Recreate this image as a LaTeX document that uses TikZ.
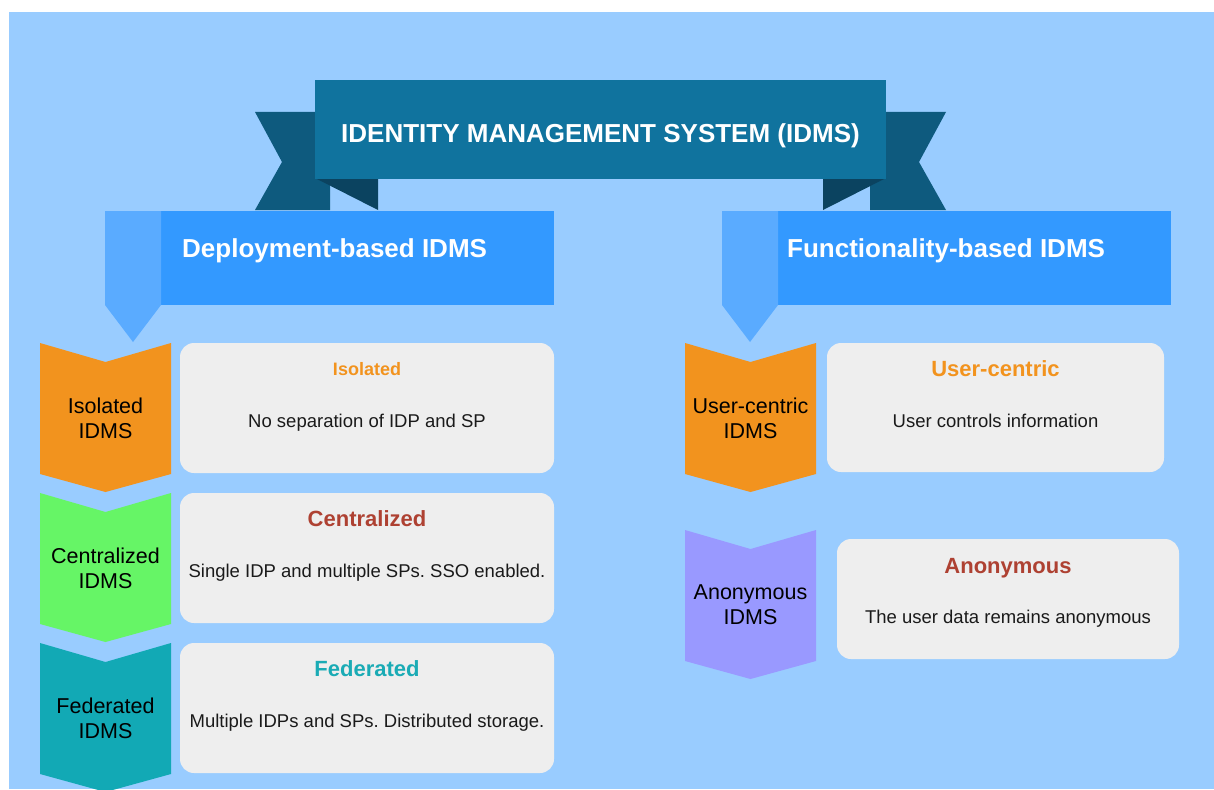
\documentclass[tikz,border=0pt]{standalone}
\usepackage{fontspec}
\setmainfont{Liberation Sans}
\frenchspacing
\definecolor{bgblue}{HTML}{99CCFF}
\definecolor{titleblue}{HTML}{10739E}
\definecolor{tailblue}{HTML}{0E5A7E}
\definecolor{folddark}{HTML}{0B4360}
\definecolor{headblue}{HTML}{3399FF}
\definecolor{striplight}{HTML}{5AABFF}
\definecolor{orangec}{HTML}{F2931E}
\definecolor{greenc}{HTML}{66F566}
\definecolor{tealc}{HTML}{12A9B5}
\definecolor{purplec}{HTML}{9999FF}
\definecolor{cardgray}{HTML}{EEEEEE}
\definecolor{redc}{HTML}{AE4132}
\definecolor{fedteal}{HTML}{1AABB5}
\definecolor{desctext}{HTML}{1A1A1A}
\newcommand\mychev[3]{\fill[#3] (#1,#2) -- ++(65.5,19) -- ++(65.5,-19) -- ++(0,131) -- ++(-65.5,18) -- ++(-65.5,-18) -- cycle;}
\begin{document}
\begin{tikzpicture}[x=1pt,y=-1pt,
  card/.style={fill=cardgray, rounded corners=14pt},
  chevtext/.style={font=\fontsize{21.5}{25}\selectfont, align=center, text=black, inner sep=0pt},
  cardtitle/.style={font=\bfseries\fontsize{22}{26}\selectfont, anchor=base, inner sep=0pt},
  desctxt/.style={font=\fontsize{18.5}{22}\selectfont, text=desctext, anchor=base, inner sep=0pt},
  headtxt/.style={font=\bfseries\fontsize{26}{30}\selectfont, text=white, anchor=base west, inner sep=0pt}]
\useasboundingbox (0,0) rectangle (1214,789);
\fill[white] (0,0) rectangle (1214,789);
\fill[bgblue] (9,12) rectangle (1214,789);
% ribbon tails
\fill[tailblue] (255,112) -- (330,112) -- (330,210) -- (255,210) -- (282,162) -- cycle;
\fill[tailblue] (946,112) -- (870,112) -- (870,210) -- (946,210) -- (919,162) -- cycle;
\fill[folddark] (315,178) -- (378,178) -- (378,210) -- cycle;
\fill[folddark] (886,178) -- (823,178) -- (823,210) -- cycle;
\fill[titleblue] (315,80) rectangle (886,179);
\node[font=\bfseries\fontsize{26}{30}\selectfont, text=white, anchor=base, inner sep=0pt] (title) at (600.5,142) {IDENTITY MANAGEMENT SYSTEM (IDMS)};
% headers
\fill[headblue] (161,211) rectangle (554,305);
\fill[striplight] (105,211) -- (161,211) -- (161,305) -- (133,342) -- (105,305) -- cycle;
\node[headtxt] (deploy) at (182,257) {Deployment-based IDMS};
\fill[headblue] (778,211) rectangle (1171,305);
\fill[striplight] (722,211) -- (778,211) -- (778,305) -- (750,342) -- (722,305) -- cycle;
\node[headtxt] (func) at (787,257) {Functionality-based IDMS};
% left chevrons
\mychev{40}{343}{orangec}
\mychev{40}{493}{greenc}
\mychev{40}{643}{tealc}
\node[chevtext] (isoc) at (105.5,418) {Isolated\\IDMS};
\node[chevtext] (cenc) at (105.5,568) {Centralized\\IDMS};
\node[chevtext] (fedc) at (105.5,718) {Federated\\IDMS};
% left cards
\fill[card] (180,343) rectangle (554,473);
\fill[card] (180,493) rectangle (554,623);
\fill[card] (180,643) rectangle (554,773);
\node[cardtitle, font=\bfseries\fontsize{18}{22}\selectfont, text=orangec] (isot) at (367,375.5) {Isolated};
\node[desctxt] (isod) at (367,427.7) {No separation of IDP and SP};
\node[cardtitle, text=redc] (cent) at (367,526) {Centralized};
\node[desctxt] (cend) at (367,577.7) {Single IDP and multiple SPs. SSO enabled.};
\node[cardtitle, text=fedteal] (fedt) at (367,676) {Federated};
\node[desctxt] (fedd) at (367,727.7) {Multiple IDPs and SPs. Distributed storage.};
% right chevrons
\mychev{685}{343}{orangec}
\mychev{685}{530}{purplec}
\node[chevtext] (usrc) at (750.5,418) {User-centric\\IDMS};
\node[chevtext] (anoc) at (750.5,605) {Anonymous\\IDMS};
% right cards
\fill[card] (827,343) rectangle (1164,472);
\fill[card] (837,539) rectangle (1179,659);
\node[cardtitle, text=orangec] (usrt) at (995.5,376) {User-centric};
\node[desctxt] (usrd) at (995.5,427.7) {User controls information};
\node[cardtitle, text=redc] (anot) at (1008,573) {Anonymous};
\node[desctxt] (anod) at (1008,623.7) {The user data remains anonymous};
\end{tikzpicture}
\end{document}
